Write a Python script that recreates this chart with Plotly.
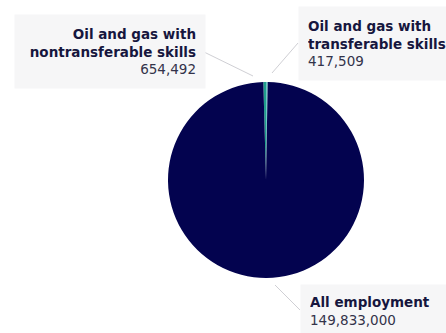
import plotly.graph_objects as go

W, H = 446, 333

categories = ["Oil and gas with transferable skills",
              "Oil and gas with nontransferable skills",
              "All employment"]
values = [417509, 654492, 149833000]
colors = ["#6fc7c4", "#1f9e8c", "#03034f"]

title_lines = {
    "Oil and gas with transferable skills": "Oil and gas with<br>transferable skills",
    "Oil and gas with nontransferable skills": "Oil and gas with<br>nontransferable skills",
    "All employment": "All employment",
}

fig = go.Figure()
fig.add_trace(go.Pie(
    labels=categories, values=values, sort=False, direction="counterclockwise",
    rotation=0, marker=dict(colors=colors, line=dict(width=0)),
    textinfo="none", hoverinfo="label+value", showlegend=False,
    domain=dict(x=[(266 - 98) / W, (266 + 98) / W],
                y=[(153 - 98) / H, (153 + 98) / H]),
))

def px(x):
    return x / W

def py(y):
    return 1 - y / H

TITLE_C = "#16163e"
VAL_C = "#33334a"

def label_text(cat, val):
    return (f"<b><span style='color:{TITLE_C}'>{title_lines[cat]}</span></b>"
            f"<br><span style='color:{VAL_C}'>{val:,}</span>")

# label boxes: (category, left, top, align, valign, width, height)
boxes = [
    (categories[1], 14, 14, "right", "middle", 172, 55),
    (categories[0], 298, 6, "left", "middle", 160, 55),
    (categories[2], 300, 284, "left", "top", 160, 55),
]
val_of = dict(zip(categories, values))
for cat, left, top, al, va, w, h in boxes:
    fig.add_annotation(
        x=px(left), y=py(top), xref="paper", yref="paper",
        xanchor="left", yanchor="top", align=al, valign=va,
        text=label_text(cat, val_of[cat]), showarrow=False,
        bgcolor="#f6f6f7", borderpad=9, width=w, height=h,
        font=dict(family="DejaVu Sans", size=13.5, color=TITLE_C),
    )

# leader lines
leaders = [((204, 52), (253, 76)), ((272, 73), (298, 43)), ((275, 285), (300, 310))]
for (x0, y0), (x1, y1) in leaders:
    fig.add_shape(type="line", xref="paper", yref="paper",
                  x0=px(x0), y0=py(y0), x1=px(x1), y1=py(y1),
                  line=dict(color="#cfcfd4", width=1))

fig.update_layout(
    width=W, height=H, margin=dict(l=0, r=0, t=0, b=0),
    paper_bgcolor="white", plot_bgcolor="white",
)
fig.write_html("out.html")
